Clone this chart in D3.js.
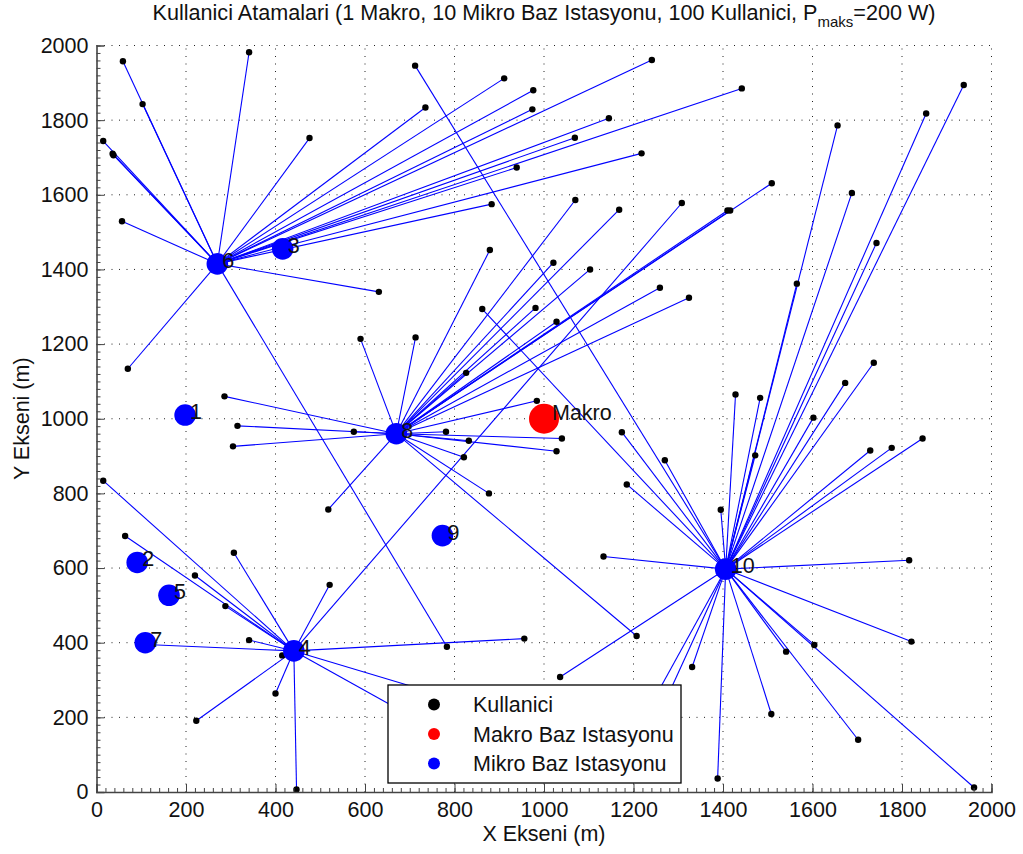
<!DOCTYPE html>
<html>
<head>
<meta charset="utf-8">
<script src="https://cdn.jsdelivr.net/npm/d3@7"></script>
<style>
  body { margin: 0; background: #fff; }
  svg text { font-family: "Liberation Sans", Arial, Helvetica, sans-serif; }
</style>
</head>
<body>
<script>
// micro base stations 1..10
var stationX = [198, 91, 416, 441, 162, 270, 109, 670, 773, 1406];
var stationY = [1010, 615, 1455, 378, 527, 1415, 400, 960, 687, 597];
var stationLabel = ["1", "2", "3", "4", "5", "6", "7", "8", "9", "10"];
// macro base station
var macroX = 1000, macroY = 1000;

// users, grouped by the station they are assigned to
var userX6 = [59, 103, 341, 15, 38, 36, 476, 57, 631, 70, 783, 735, 911, 976, 974, 1241, 1145, 1069, 1218, 939, 883, 1442];
var userY6 = [1958, 1843, 1982, 1744, 1706, 1710, 1752, 1529, 1340, 1134, 389, 1834, 1912, 1880, 1829, 1961, 1805, 1753, 1711, 1673, 1575, 1885];
var userX8 = [590, 286, 315, 305, 575, 518, 713, 981, 1028, 826, 984, 781, 832, 1040, 1028, 821, 877, 1207, 1070, 1168, 879, 1021, 1103, 1259, 1324, 1509, 1410, 1416];
var userY8 = [1214, 1060, 981, 926, 965, 757, 1218, 1297, 1260, 1123, 1048, 965, 941, 947, 913, 897, 800, 418, 1586, 1560, 1452, 1418, 1400, 1351, 1324, 1631, 1558, 1558];
var userX4 = [15, 64, 307, 220, 288, 521, 341, 415, 400, 223, 447, 110, 956, 1308, 916, 715];
var userY4 = [834, 686, 641, 580, 498, 555, 407, 366, 264, 191, 7, 395, 411, 1578, 207, 195];
var userX10 = [712, 862, 1656, 1688, 1854, 1938, 1743, 1565, 1428, 1483, 1472, 1602, 1673, 1737, 1729, 1777, 1846, 1395, 1174, 1270, 1185, 1133, 1036, 1331, 1816, 1821, 1604, 1541, 1508, 1702, 1388, 1961, 1235, 1264];
var userY10 = [1946, 1294, 1786, 1605, 1818, 1894, 1471, 1362, 1065, 1056, 902, 1003, 1096, 1150, 915, 922, 947, 756, 964, 889, 824, 631, 308, 335, 621, 403, 394, 376, 209, 140, 36, 12, 225, 225];

var majorTicks = [0, 200, 400, 600, 800, 1000, 1200, 1400, 1600, 1800, 2000];
var legendLabels = ["Kullanici", "Makro Baz Istasyonu", "Mikro Baz Istasyonu"];
var legendColors = ["black", "red", "blue"];

// build user list
var users = [];
function addUsers(xs, ys, st) {
  xs.forEach(function(x, i) { users.push({x: x, y: ys[i], s: st}); });
}
addUsers(userX6, userY6, 6);
addUsers(userX8, userY8, 8);
addUsers(userX4, userY4, 4);
addUsers(userX10, userY10, 10);

var W = 1023, H = 854;
var plotLeft = 96.5, plotTop = 45.5, plotRight = 991.5, plotBottom = 792;
var fs = 21.5;

var svg = d3.select("body").append("svg")
  .attr("width", W)
  .attr("height", H);

var x = d3.scaleLinear().domain([0, 2000]).range([plotLeft, plotRight]);
var y = d3.scaleLinear().domain([0, 2000]).range([plotBottom, plotTop]);

// dotted grid
var grid = svg.append("g").attr("class", "grid");
grid.selectAll("line.gx").data(majorTicks.slice(1)).enter().append("line")
  .attr("x1", function(d) { return x(d); }).attr("x2", function(d) { return x(d); })
  .attr("y1", y(0)).attr("y2", y(2000));
grid.selectAll("line.gy").data(majorTicks.slice(1)).enter().append("line")
  .attr("y1", function(d) { return y(d); }).attr("y2", function(d) { return y(d); })
  .attr("x1", x(0)).attr("x2", x(2000));
grid.selectAll("line")
  .attr("stroke", "#222")
  .attr("stroke-width", 1)
  .attr("stroke-dasharray", "1,6.5");

// user -> station links
var links = svg.append("g");
links.selectAll("line").data(users).enter().append("line")
  .attr("x1", function(d) { return x(d.x); })
  .attr("y1", function(d) { return y(d.y); })
  .attr("x2", function(d) { return x(stationX[d.s - 1]); })
  .attr("y2", function(d) { return y(stationY[d.s - 1]); })
  .attr("stroke", "blue")
  .attr("stroke-width", 1.1);

// users
svg.append("g").selectAll("circle").data(users).enter().append("circle")
  .attr("cx", function(d) { return x(d.x); })
  .attr("cy", function(d) { return y(d.y); })
  .attr("r", 3.2)
  .attr("fill", "black");

// stations
svg.append("g").selectAll("circle").data(stationX).enter().append("circle")
  .attr("cx", function(d) { return x(d); })
  .attr("cy", function(d, i) { return y(stationY[i]); })
  .attr("r", 10.8)
  .attr("fill", "blue");
svg.append("circle")
  .attr("cx", x(macroX)).attr("cy", y(macroY))
  .attr("r", 15)
  .attr("fill", "red");

// station labels
svg.append("g").selectAll("text").data(stationLabel).enter().append("text")
  .attr("x", function(d, i) { return x(stationX[i]) + 5; })
  .attr("y", function(d, i) { return y(stationY[i]) + 4; })
  .attr("font-size", fs)
  .attr("fill", "#111")
  .text(function(d) { return d; });
svg.append("text")
  .attr("x", x(macroX) + 8)
  .attr("y", y(macroY) + 1)
  .attr("font-size", fs)
  .attr("fill", "#111")
  .text("Makro");

// axes (ticks point inward)
var xAxis = svg.append("g").attr("transform", "translate(0," + plotBottom + ")")
  .call(d3.axisBottom(x).tickValues(majorTicks).tickSize(-8).tickPadding(10).tickFormat(d3.format("d")));
var yAxis = svg.append("g").attr("transform", "translate(" + plotLeft + ",0)")
  .call(d3.axisLeft(y).tickValues(majorTicks).tickSize(-8).tickPadding(8).tickFormat(d3.format("d")));
var minor = d3.range(0, 2001, 20);
svg.append("g").attr("transform", "translate(0," + plotBottom + ")")
  .call(d3.axisBottom(x).tickValues(minor).tickSize(-4).tickFormat(""))
  .select(".domain").remove();
svg.append("g").attr("transform", "translate(" + plotLeft + ",0)")
  .call(d3.axisLeft(y).tickValues(minor).tickSize(-4).tickFormat(""))
  .select(".domain").remove();
svg.selectAll(".domain").attr("stroke", "#444").attr("stroke-width", 1.6);
svg.selectAll(".tick line").attr("stroke", "#444");
[xAxis, yAxis].forEach(function(a) {
  a.selectAll("text").attr("font-size", fs).attr("fill", "#111")
    .style("font-family", "'Liberation Sans', Arial, sans-serif");
});
xAxis.selectAll(".tick").filter(function(d) { return d === 2000 || d === 0; }).select("line").remove();
yAxis.selectAll(".tick").filter(function(d) { return d === 2000 || d === 0; }).select("line").remove();

// title
var title = svg.append("text")
  .attr("x", (plotLeft + plotRight) / 2)
  .attr("y", 20)
  .attr("text-anchor", "middle")
  .attr("font-size", 21.6)
  .attr("fill", "#111");
title.append("tspan").text("Kullanici Atamalari (1 Makro, 10 Mikro Baz Istasyonu, 100 Kullanici, P");
title.append("tspan").attr("font-size", 15).attr("dy", 7).text("maks");
title.append("tspan").attr("dy", -7).text("=200 W)");

// axis labels
svg.append("text")
  .attr("x", (plotLeft + plotRight) / 2)
  .attr("y", 841)
  .attr("text-anchor", "middle")
  .attr("font-size", fs)
  .attr("fill", "#111")
  .text("X Ekseni (m)");
svg.append("text")
  .attr("transform", "translate(29," + ((plotTop + plotBottom) / 2) + ") rotate(-90)")
  .attr("text-anchor", "middle")
  .attr("font-size", fs)
  .attr("fill", "#111")
  .text("Y Ekseni (m)");

// legend
var legend = svg.append("g").attr("transform", "translate(388,685)");
legend.append("rect")
  .attr("width", 293).attr("height", 98)
  .attr("fill", "white")
  .attr("stroke", "black")
  .attr("stroke-width", 1.3);
var items = legend.selectAll("g.item").data(legendLabels).enter().append("g")
  .attr("transform", function(d, i) { return "translate(0," + (19.5 + i * 29.5) + ")"; });
items.append("circle")
  .attr("cx", 46).attr("cy", 0).attr("r", 6)
  .attr("fill", function(d, i) { return legendColors[i]; });
items.append("text")
  .attr("x", 85).attr("y", 7.5)
  .attr("font-size", fs)
  .attr("fill", "#111")
  .text(function(d) { return d; });
</script>
</body>
</html>
